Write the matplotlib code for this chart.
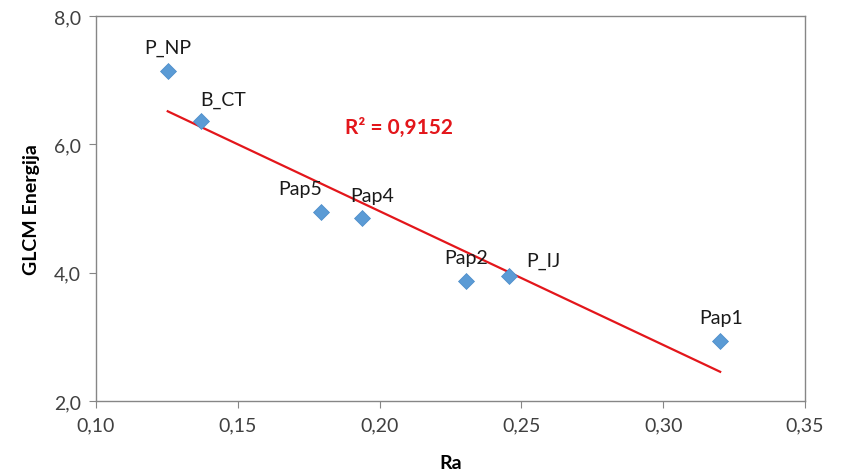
import numpy as np
import matplotlib.pyplot as plt

plt.rcParams['font.family'] = ['Lato', 'DejaVu Sans']

names = ['P_NP', 'B_CT', 'Pap5', 'Pap4', 'Pap2', 'P_IJ', 'Pap1']
ra = [0.1253, 0.1369, 0.1795, 0.1939, 0.2305, 0.2456, 0.3201]
energy = [7.14, 6.36, 4.95, 4.85, 3.87, 3.95, 2.94]

x_ticks = [0.10, 0.15, 0.20, 0.25, 0.30, 0.35]
x_ticklabels = ['0,10', '0,15', '0,20', '0,25', '0,30', '0,35']
y_ticks = [2.0, 4.0, 6.0, 8.0]
y_ticklabels = ['2,0', '4,0', '6,0', '8,0']

# label offsets in pixels (dx, dy)
offsets = [(0, 24), (22, 22), (-21, 23), (10, 23), (0, 24), (34, 16), (1, 23)]

fig = plt.figure(figsize=(8.42, 4.77), dpi=100)
ax = fig.add_axes([0.114, 0.157, 0.842, 0.807])

# linear trend line
k, b = np.polyfit(ra, energy, 1)
xl = np.array([min(ra), max(ra)])
ax.plot(xl, k * xl + b, color='#E3161B', lw=1.6, zorder=2)

ax.plot(ra, energy, linestyle='none', marker='D', markersize=8,
        color='#5B9BD5', markeredgecolor='#4A8BC8', markeredgewidth=0.5, zorder=3)

for n, xv, yv, off in zip(names, ra, energy, offsets):
    ax.annotate(n, (xv, yv), xytext=off, textcoords='offset pixels',
                ha='center', va='center', fontsize=14, color='#1a1a1a')

ax.text(0.207, 6.27, 'R² = 0,9152', color='#E3161B', fontsize=15,
        fontweight='bold', ha='center', va='center')

ax.set_xlim(0.10, 0.35)
ax.set_ylim(2.0, 8.0)
ax.set_xticks(x_ticks)
ax.set_xticklabels(x_ticklabels)
ax.set_yticks(y_ticks)
ax.set_yticklabels(y_ticklabels)
ax.tick_params(direction='out', length=5, color='#868686', labelsize=14,
               labelcolor='#404040', pad=6)

for s in ax.spines.values():
    s.set_color('#868686')
    s.set_linewidth(1.0)

ax.set_xlabel('Ra', fontsize=14, fontweight='bold', labelpad=15)
ax.set_ylabel('GLCM Energija', fontsize=14, fontweight='bold', labelpad=10)

fig.savefig('out.png', dpi=100)
